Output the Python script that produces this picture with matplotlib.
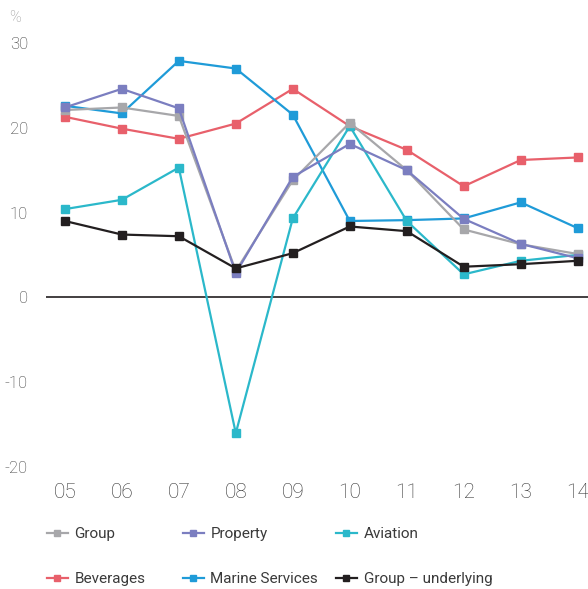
import matplotlib
matplotlib.use("Agg")
import matplotlib.pyplot as plt
from matplotlib import font_manager
from matplotlib.lines import Line2D

# Data (% growth per year)
years = ["05", "06", "07", "08", "09", "10", "11", "12", "13", "14"]

group = [22.1, 22.4, 21.4, 3.1, 13.8, 20.6, 15.0, 8.0, 6.25, 5.1]
property_ = [22.4, 24.6, 22.3, 2.85, 14.2, 18.1, 15.0, 9.25, 6.3, 4.6]
aviation = [10.4, 11.5, 15.3, -16.05, 9.3, 20.2, 9.0, 2.7, 4.3, 5.0]
beverages = [21.3, 19.9, 18.7, 20.5, 24.6, 20.2, 17.4, 13.1, 16.2, 16.5]
marine = [22.6, 21.7, 27.9, 27.0, 21.55, 9.0, 9.1, 9.3, 11.2, 8.15]
underlying = [9.0, 7.4, 7.2, 3.4, 5.2, 8.35, 7.8, 3.6, 3.9, 4.3]

y_ticks = [-20, -10, 0, 10, 20, 30]

series = [
    ("Group", group, "#a7a7aa"),
    ("Property", property_, "#7b7ec0"),
    ("Aviation", aviation, "#2bb8ca"),
    ("Beverages", beverages, "#e8606b"),
    ("Marine Services", marine, "#1f9bd8"),
    ("Group \u2013 underlying", underlying, "#231f20"),
]

# draw order (back to front) as in the reference
draw_order = ["Beverages", "Marine Services", "Aviation", "Group", "Property", "Group \u2013 underlying"]

installed = {f.name for f in font_manager.fontManager.ttflist}
font = "Liberation Sans Narrow" if "Liberation Sans Narrow" in installed else "Roboto"
plt.rcParams["font.family"] = [font, "DejaVu Sans"]
plt.rcParams["font.weight"] = "light"

W, H = 588, 589
fig = plt.figure(figsize=(W / 100, H / 100), dpi=100)
ax = fig.add_axes([46 / W, 1 - 475.1 / H, 542 / W, 444.7 / H])

xs = list(range(len(years)))
by_name = {s[0]: s for s in series}
for z, name in enumerate(draw_order):
    lbl, vals, col = by_name[name]
    ax.plot(xs, vals, color=col, lw=1.6, marker="s", ms=5.6,
            mec=col, mfc=col, clip_on=False, zorder=3 + z)

ax.axhline(0, color="#231f20", lw=1.2, zorder=2)

ax.set_xlim(-0.33, 9.18)
ax.set_ylim(-21, 31.5)
ax.set_xticks(xs)
ax.set_xticklabels(years, fontsize=15, color="#333333")
ax.set_yticks(y_ticks)
ax.set_yticklabels([str(v) for v in y_ticks], fontsize=12, color="#333333")
ax.tick_params(axis="both", length=0)
ax.tick_params(axis="y", pad=13)
ax.tick_params(axis="x", pad=6)
for sp in ax.spines.values():
    sp.set_visible(False)

fig.text(9 / W, 1 - 18 / H, "%", fontsize=11.5, color="#9a9a9a", va="center", ha="left")

# legend: two rows of three entries
leg_x = [47, 183, 336]
leg_y = [534, 579]
for i, (lbl, vals, col) in enumerate(series):
    h = Line2D([], [], color=col, lw=1.6, marker="s", ms=5, mec=col, mfc=col)
    lg = fig.legend(handles=[h], labels=[lbl], loc="center left",
                    bbox_to_anchor=(leg_x[i % 3] / W, 1 - leg_y[i // 3] / H),
                    frameon=False, handlelength=1.35,
                    handletextpad=0.45, borderpad=0, borderaxespad=0,
                    prop={"size": 11, "weight": "normal"})
    for t in lg.get_texts():
        t.set_color("#3a3a3a")

fig.savefig("out.png", dpi=100)
